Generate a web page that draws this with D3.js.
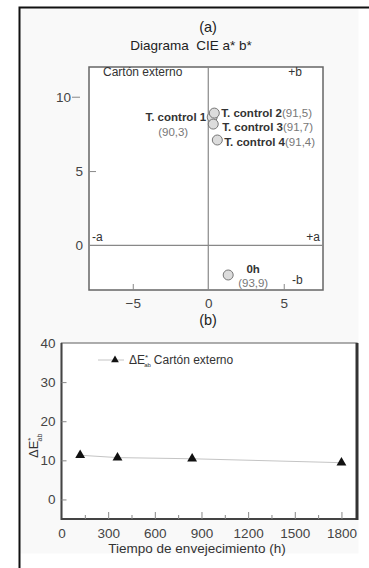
<!DOCTYPE html>
<html>
<head>
<meta charset="utf-8">
<script src="https://cdn.jsdelivr.net/npm/d3@7"></script>
<style>
  body { margin: 0; background: #fff; }
  text { font-family: "Liberation Sans", Arial, sans-serif; }
</style>
</head>
<body>
<svg id="chart" width="369" height="568"></svg>
<script>
/////////////// data ////////////////
// panel (a): CIE a* b* points
const PT_NAMES = ["T. control 1", "T. control 2", "T. control 3", "T. control 4", "0h"];
const PT_VALS = ["(90,3)", "(91,5)", "(91,7)", "(91,4)", "(93,9)"];
const A_STAR = [0.26, 0.40, 0.33, 0.60, 1.32];
const B_STAR = [8.63, 8.90, 8.16, 7.09, -1.99];
const A_TICKS = [-5, 0, 5];
const B_TICKS = [0, 5, 10];
// panel (b): colour difference vs ageing time
const HOURS = [120, 360, 840, 1800];
const DELTA_E = [11.3, 10.7, 10.4, 9.4];
const T_TICKS = [0, 300, 600, 900, 1200, 1500, 1800];
const DE_TICKS = [0, 10, 20, 30, 40];

const SVG = d3.select("#chart");
const FONT = "'Liberation Sans', Arial, sans-serif";

// outer frame (only top and left visible)
SVG.append("rect")
    .attr("x", 19.5).attr("y", 7.5)
    .attr("width", 339).attr("height", 546)
    .attr("fill", "#f9f9f9");
SVG.append("path")
    .attr("d", "M19.5,568 L19.5,7.5 L369,7.5")
    .attr("fill", "none")
    .attr("stroke", "#111")
    .attr("stroke-width", 2);

/////////////// panel (a) ////////////////
const SCL_A = d3.scaleLinear().domain([-7.9, 7.6]).range([89, 323]);
const SCL_B = d3.scaleLinear().domain([-3, 12]).range([290, 67]);
const GRP_A = SVG.append("g").attr("id", "panelA");

GRP_A.append("text").attr("x", 208).attr("y", 32)
    .attr("text-anchor", "middle").attr("font-size", 14.5).attr("fill", "#222")
    .text("(a)");
GRP_A.append("text").attr("x", 191).attr("y", 50)
    .attr("text-anchor", "middle").attr("font-size", 13.5).attr("fill", "#222")
    .attr("xml:space", "preserve")
    .text("Diagrama  CIE a* b*");

// frame
GRP_A.append("rect")
    .attr("x", SCL_A.range()[0]).attr("y", SCL_B.range()[1])
    .attr("width", SCL_A.range()[1] - SCL_A.range()[0])
    .attr("height", SCL_B.range()[0] - SCL_B.range()[1])
    .attr("fill", "#fff")
    .attr("stroke", "#666")
    .attr("stroke-width", 1.5);
// zero cross lines
GRP_A.append("line")
    .attr("x1", SCL_A(0)).attr("x2", SCL_A(0))
    .attr("y1", SCL_B.range()[0]).attr("y2", SCL_B.range()[1])
    .attr("stroke", "#888").attr("stroke-width", 1.2);
GRP_A.append("line")
    .attr("x1", SCL_A.range()[0]).attr("x2", SCL_A.range()[1])
    .attr("y1", SCL_B(0)).attr("y2", SCL_B(0))
    .attr("stroke", "#888").attr("stroke-width", 1.2);

// axes
const AX_A = GRP_A.append("g")
    .attr("transform", `translate(0, ${SCL_B.range()[0]})`)
    .call(d3.axisBottom(SCL_A).tickValues(A_TICKS).tickSizeInner(-6).tickSizeOuter(0).tickPadding(8));
const AX_B = GRP_A.append("g")
    .attr("transform", `translate(${SCL_A.range()[0]}, 0)`)
    .call(d3.axisLeft(SCL_B).tickValues(B_TICKS).tickSizeInner(-7).tickSizeOuter(0).tickPadding(6));
[AX_A, AX_B].forEach(ax => {
    ax.select(".domain").remove();
    ax.selectAll("line").attr("stroke", "#888");
    ax.selectAll("text").attr("font-size", 13.5).attr("fill", "#444")
        .style("font-family", FONT);
});
AX_A.selectAll(".tick").filter(d => d == 0).select("line").remove();
AX_B.selectAll(".tick").filter(d => d == 0).select("line").remove();
// the "10" label sits with its tick outside the frame
AX_B.selectAll(".tick").filter(d => d == 10).select("line").attr("x1", -17).attr("x2", -9);
AX_B.selectAll(".tick").filter(d => d == 10).select("text").attr("x", -18);

// corner labels
const CORNER = [
    {t: "Cartón externo", x: 103, y: 76, a: "start"},
    {t: "+b", x: 295, y: 76, a: "middle"},
    {t: "-a", x: 92, y: 241, a: "start"},
    {t: "+a", x: 320, y: 241, a: "end"},
    {t: "-b", x: 292, y: 284, a: "start"}
];
GRP_A.selectAll(".corner")
    .data(CORNER)
    .enter()
    .append("text")
    .attr("class", "corner")
    .attr("x", d => d.x).attr("y", d => d.y)
    .attr("text-anchor", d => d.a)
    .attr("font-size", 12).attr("fill", "#333")
    .text(d => d.t);

// points
const PTS = A_STAR.map((a, i) => ({a: a, b: B_STAR[i], name: PT_NAMES[i], val: PT_VALS[i]}));
GRP_A.selectAll("circle")
    .data(PTS)
    .enter()
    .append("circle")
    .attr("cx", d => SCL_A(d.a))
    .attr("cy", d => SCL_B(d.b))
    .attr("r", 5)
    .attr("fill", "#dcdcdc")
    .attr("stroke", "#777")
    .attr("stroke-width", 1);

// point labels: name bold, value normal
const LBL_FONT = 11.5;
// T. control 1 : name to the left, value underneath
let p = PTS[0];
GRP_A.append("text")
    .attr("x", SCL_A(p.a) - 6).attr("y", SCL_B(p.b) + 4)
    .attr("text-anchor", "end").attr("font-size", LBL_FONT)
    .attr("font-weight", "bold").attr("fill", "#333")
    .text(p.name);
GRP_A.append("text")
    .attr("x", SCL_A(p.a) - 39).attr("y", SCL_B(p.b) + 19)
    .attr("text-anchor", "middle").attr("font-size", LBL_FONT).attr("fill", "#777")
    .text(p.val);
// T. control 2..4 : to the right
const RIGHT_OFF = [null, [7, 4], [9, 7], [7, 6]];
for (let i = 1; i < 4; i++) {
    const t = GRP_A.append("text")
        .attr("x", SCL_A(PTS[i].a) + RIGHT_OFF[i][0])
        .attr("y", SCL_B(PTS[i].b) + RIGHT_OFF[i][1])
        .attr("font-size", LBL_FONT);
    t.append("tspan").attr("font-weight", "bold").attr("fill", "#333").text(PTS[i].name);
    t.append("tspan").attr("fill", "#777").text(PTS[i].val);
}
// 0h : stacked, right of point
p = PTS[4];
GRP_A.append("text")
    .attr("x", SCL_A(p.a) + 25).attr("y", SCL_B(p.b) - 2)
    .attr("text-anchor", "middle").attr("font-size", LBL_FONT)
    .attr("font-weight", "bold").attr("fill", "#333")
    .text(p.name);
GRP_A.append("text")
    .attr("x", SCL_A(p.a) + 25).attr("y", SCL_B(p.b) + 12)
    .attr("text-anchor", "middle").attr("font-size", LBL_FONT).attr("fill", "#777")
    .text(p.val);

/////////////// panel (b) ////////////////
const SCL_T = d3.scaleLinear().domain([0, 1900]).range([61.5, 357]);
const SCL_DE = d3.scaleLinear().domain([-5, 40]).range([519, 343]);
const GRP_B = SVG.append("g").attr("id", "panelB");

GRP_B.append("text").attr("x", 208).attr("y", 325)
    .attr("text-anchor", "middle").attr("font-size", 14.5).attr("fill", "#222")
    .text("(b)");

GRP_B.append("rect")
    .attr("x", SCL_T.range()[0]).attr("y", SCL_DE.range()[1])
    .attr("width", SCL_T.range()[1] - SCL_T.range()[0])
    .attr("height", SCL_DE.range()[0] - SCL_DE.range()[1])
    .attr("fill", "#fff")
    .attr("stroke", "#777")
    .attr("stroke-width", 1.2);
// heavier left, bottom and right sides
GRP_B.append("path")
    .attr("d", `M${SCL_T.range()[0]},${SCL_DE.range()[1]} V${SCL_DE.range()[0]} H${SCL_T.range()[1]}`)
    .attr("fill", "none").attr("stroke", "#444").attr("stroke-width", 2);
GRP_B.append("line")
    .attr("x1", SCL_T.range()[1]).attr("x2", SCL_T.range()[1])
    .attr("y1", SCL_DE.range()[1]).attr("y2", SCL_DE.range()[0] + 1)
    .attr("stroke", "#333").attr("stroke-width", 3);

const AX_T = GRP_B.append("g")
    .attr("transform", `translate(0, ${SCL_DE.range()[0]})`)
    .call(d3.axisBottom(SCL_T).tickValues(T_TICKS).tickFormat(d3.format("d"))
        .tickSizeInner(-7).tickSizeOuter(0).tickPadding(9));
const AX_T_MINOR = GRP_B.append("g")
    .attr("transform", `translate(0, ${SCL_DE.range()[0]})`)
    .call(d3.axisBottom(SCL_T).tickValues(T_TICKS.slice(0, -1).map(d => d + 150))
        .tickSizeInner(-4).tickSizeOuter(0).tickFormat(""));
const AX_DE = GRP_B.append("g")
    .attr("transform", `translate(${SCL_T.range()[0]}, 0)`)
    .call(d3.axisLeft(SCL_DE).tickValues(DE_TICKS).tickSizeInner(-5).tickSizeOuter(0).tickPadding(6));
[AX_T, AX_T_MINOR, AX_DE].forEach(ax => {
    ax.select(".domain").remove();
    ax.selectAll("line").attr("stroke", "#888");
    ax.selectAll("text").attr("font-size", 13.5).attr("fill", "#444")
        .style("font-family", FONT);
});
AX_T.selectAll(".tick").filter(d => d == 0).select("line").remove();
AX_DE.selectAll(".tick").filter(d => d == 40).select("line").remove();

// axis titles
GRP_B.append("text")
    .attr("x", 197).attr("y", 553)
    .attr("text-anchor", "middle").attr("font-size", 13.5).attr("fill", "#333")
    .text("Tiempo de envejecimiento (h)");
const Y_TTL = GRP_B.append("text")
    .attr("transform", "translate(38, 458) rotate(-90)")
    .attr("font-size", 13).attr("fill", "#333");
Y_TTL.append("tspan").text("ΔE");
Y_TTL.append("tspan").attr("font-size", 8).attr("dy", -5).text("*");
Y_TTL.append("tspan").attr("font-size", 7).attr("dx", -4).attr("dy", 9).text("ab");

// trend line and markers
const LN = d3.line().x((d, i) => SCL_T(HOURS[i])).y(d => SCL_DE(d));
GRP_B.append("path")
    .attr("d", LN(DELTA_E))
    .attr("fill", "none").attr("stroke", "#c4c4c4").attr("stroke-width", 1);
const TRI = d3.symbol().type(d3.symbolTriangle).size(42);
GRP_B.selectAll(".tri")
    .data(DELTA_E)
    .enter()
    .append("path")
    .attr("class", "tri")
    .attr("d", TRI)
    .attr("transform", (d, i) => `translate(${SCL_T(HOURS[i])}, ${SCL_DE(d)})`)
    .attr("fill", "#111");

// legend
GRP_B.append("line")
    .attr("x1", 98).attr("x2", 124).attr("y1", 360).attr("y2", 360)
    .attr("stroke", "#c4c4c4").attr("stroke-width", 1);
GRP_B.append("path")
    .attr("d", d3.symbol().type(d3.symbolTriangle).size(26))
    .attr("transform", "translate(115, 360)")
    .attr("fill", "#111");
const LEG = GRP_B.append("text")
    .attr("x", 129).attr("y", 364)
    .attr("font-size", 12).attr("fill", "#333");
LEG.append("tspan").text("ΔE");
LEG.append("tspan").attr("font-size", 8).attr("dy", -4).text("*");
LEG.append("tspan").attr("font-size", 6).attr("dx", -4).attr("dy", 7).text("ab");
LEG.append("tspan").attr("dy", -3).attr("dx", 3).text("Cartón externo");
</script>
</body>
</html>
